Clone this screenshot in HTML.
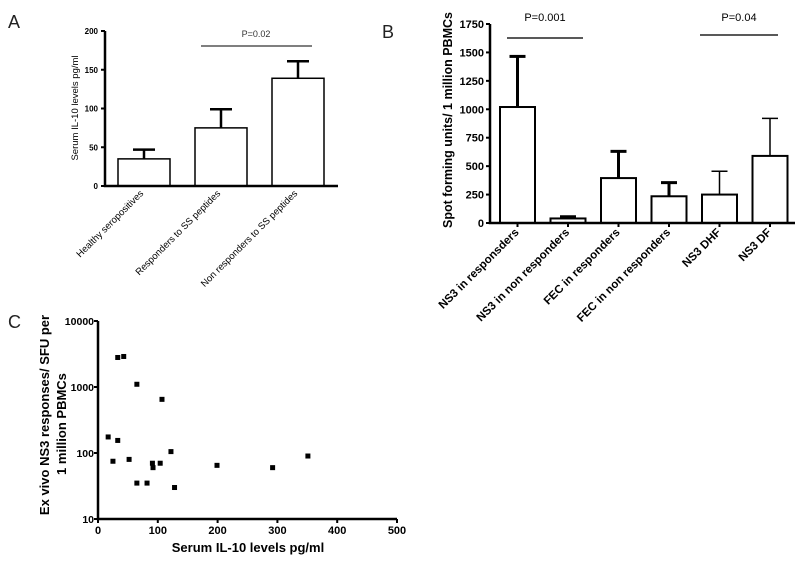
<!DOCTYPE html>
<html><head><meta charset="utf-8"><style>
body{margin:0;background:#fff}
svg{display:block;font-family:"Liberation Sans",sans-serif}
</style></head><body>
<svg id="fig" width="800" height="561" xmlns="http://www.w3.org/2000/svg">
<text x="8" y="28" font-size="18" fill="#222">A</text>
<text x="382" y="38" font-size="18" fill="#222">B</text>
<text x="8" y="328" font-size="18" fill="#222">C</text>
<g id="pa"></g>
<g id="pb"></g>
<g id="pc"></g>
</svg>
<script>
const aCats=["Healthy seropositives","Responders to SS peptides","Non responders to SS peptides"];
const aMeans=[35,75,139];
const aErr=[47,99,161];
const aTicks=[0,50,100,150,200];
const bCats=["NS3  in responsders","NS3 in non responders","FEC in responders","FEC in non responders","NS3 DHF","NS3 DF"];
const bMeans=[1020,40,395,235,250,590];
const bErr=[1465,55,630,355,455,920];
const bTicks=[0,250,500,750,1000,1250,1500,1750];
const cX=[17,25,33,33,43,52,65,65,82,91,92,104,107,122,128,199,292,351];
const cY=[175,75,2800,155,2900,80,1100,35,35,70,60,70,650,105,30,65,60,90];
const cXTicks=[0,100,200,300,400,500];
const cYTicks=[10,100,1000,10000];
const NS="http://www.w3.org/2000/svg";
function mk(p,t,a){const e=document.createElementNS(NS,t);for(const k in a)e.setAttribute(k,a[k]);p.appendChild(e);return e;}

// Panel A
(function(){
const g=document.getElementById('pa');
const x0=105,x1=338,y0=186,y1=31;
const ys=v=>y0-(v/200)*(y0-y1);
const bw=52, step=77, start=118;
aTicks.forEach(t=>{
 const l=mk(g,'line',{x1:x0-4,x2:x0,y1:ys(t),y2:ys(t),stroke:'#000','stroke-width':2});
 
 const tx=mk(g,'text',{x:x0-7,y:ys(t)+3,'font-size':8,'font-weight':'bold','text-anchor':'end'});tx.textContent=t;
 
});
aCats.forEach((c,i)=>{
 const bx=start+i*step, cx=bx+bw/2;
 const e=mk(g,'line',{x1:cx,x2:cx,y1:ys(aMeans[i]),y2:ys(aErr[i]),stroke:'#000','stroke-width':2.5});
 
 const cap=mk(g,'line',{x1:cx-11,x2:cx+11,y1:ys(aErr[i]),y2:ys(aErr[i]),stroke:'#000','stroke-width':2.5});
 
 const r=mk(g,'rect',{x:bx,y:ys(aMeans[i]),width:bw,height:y0-ys(aMeans[i]),fill:'#fff',stroke:'#000','stroke-width':1.5});
 
 const tx=mk(g,'text',{x:cx,y:y0+8,'font-size':9.5,'text-anchor':'end',transform:`rotate(-45 ${cx} ${y0+8})`});tx.textContent=c;
 
});
const ax=mk(g,'path',{d:`M${x0} ${y1}V${y0}H${x1}`,fill:'none',stroke:'#000','stroke-width':2.5});

const yt=mk(g,'text',{x:78,y:108,'font-size':9.5,'text-anchor':'middle',transform:'rotate(-90 78 108)'});yt.textContent='Serum IL-10 levels pg/ml';

const pl=mk(g,'line',{x1:201,x2:312,y1:46,y2:46,stroke:'#555','stroke-width':1.5});

const pt=mk(g,'text',{x:256,y:37,'font-size':9,'text-anchor':'middle',fill:'#333'});pt.textContent='P=0.02';

})();

// Panel B
(function(){
const g=document.getElementById('pb');
const x0=490,x1=795,y0=223,y1=24;
const ys=v=>y0-(v/1750)*(y0-y1);
const bw=35, step=50.5, start=500;
bTicks.forEach(t=>{
 const l=mk(g,'line',{x1:x0-4,x2:x0,y1:ys(t),y2:ys(t),stroke:'#000','stroke-width':2});
 
 const tx=mk(g,'text',{x:x0-6,y:ys(t)+4,'font-size':11,'font-weight':'bold','text-anchor':'end'});tx.textContent=t;
 
});
bCats.forEach((c,i)=>{
 const bx=start+i*step, cx=bx+bw/2;
 const thin=i>=4;
 const e=mk(g,'line',{x1:cx,x2:cx,y1:ys(bMeans[i]),y2:ys(bErr[i]),stroke:'#000','stroke-width':thin?1.5:3});
 
 const cap=mk(g,'line',{x1:cx-8,x2:cx+8,y1:ys(bErr[i]),y2:ys(bErr[i]),stroke:'#000','stroke-width':thin?1.5:3});
 
 const r=mk(g,'rect',{x:bx,y:ys(bMeans[i]),width:bw,height:y0-ys(bMeans[i]),fill:'#fff',stroke:'#000','stroke-width':2});
 
 const tk=mk(g,'line',{x1:cx,x2:cx,y1:y0,y2:y0+4,stroke:'#000','stroke-width':2});
 
 const tx=mk(g,'text',{x:cx+2,y:y0+10,'font-size':11.5,'font-weight':'bold','text-anchor':'end',transform:`rotate(-45 ${cx+2} ${y0+10})`});tx.textContent=c;
 
});
const ax=mk(g,'path',{d:`M${x0} ${y1}V${y0}H${x1}`,fill:'none',stroke:'#000','stroke-width':2.5});

const yt=mk(g,'text',{x:452,y:120,'font-size':12.5,'font-weight':'bold','text-anchor':'middle',transform:'rotate(-90 452 120)'});yt.textContent='Spot forming units/ 1 million PBMCs';

[[507,583,38,'P=0.001',545,21],[700,778,35,'P=0.04',739,21]].forEach(p=>{
 const l=mk(g,'line',{x1:p[0],x2:p[1],y1:p[2],y2:p[2],stroke:'#222','stroke-width':1.5});
 
 const t=mk(g,'text',{x:p[4],y:p[5],'font-size':11,'text-anchor':'middle'});t.textContent=p[3];
 
});
})();

// Panel C
(function(){
const g=document.getElementById('pc');
const x0=98,x1=397,y0=519,y1=321;
const xs=v=>x0+(v/500)*(x1-x0);
const ys=v=>y0-(Math.log10(v)-1)/3*(y0-y1);
cYTicks.forEach(t=>{
 const l=mk(g,'line',{x1:x0-4,x2:x0,y1:ys(t),y2:ys(t),stroke:'#000','stroke-width':2});
 
 const tx=mk(g,'text',{x:x0-4,y:ys(t)+4,'font-size':10.5,'font-weight':'bold','text-anchor':'end'});tx.textContent=t;
 
});
cXTicks.forEach(t=>{
 const l=mk(g,'line',{x1:xs(t),x2:xs(t),y1:y0,y2:y0+4,stroke:'#000','stroke-width':2});
 
 const tx=mk(g,'text',{x:xs(t),y:y0+15,'font-size':11,'font-weight':'bold','text-anchor':'middle'});tx.textContent=t;
 
});
cX.forEach((v,i)=>{
 const r=mk(g,'rect',{x:xs(v)-2.5,y:ys(cY[i])-2.5,width:5,height:5,fill:'#000'});
 
});
const ax=mk(g,'path',{d:`M${x0} ${y1}V${y0}H${x1}`,fill:'none',stroke:'#000','stroke-width':2.5});

const xt=mk(g,'text',{x:248,y:552,'font-size':13,'font-weight':'bold','text-anchor':'middle'});xt.textContent='Serum IL-10 levels pg/ml';

const y1t=mk(g,'text',{x:49,y:415,'font-size':13,'font-weight':'bold','text-anchor':'middle',transform:'rotate(-90 49 415)'});y1t.textContent='Ex vivo NS3 responses/ SFU per';

const y2t=mk(g,'text',{x:66,y:424,'font-size':13,'font-weight':'bold','text-anchor':'middle',transform:'rotate(-90 66 424)'});y2t.textContent='1 million PBMCs';

})();
</script>
</body></html>
